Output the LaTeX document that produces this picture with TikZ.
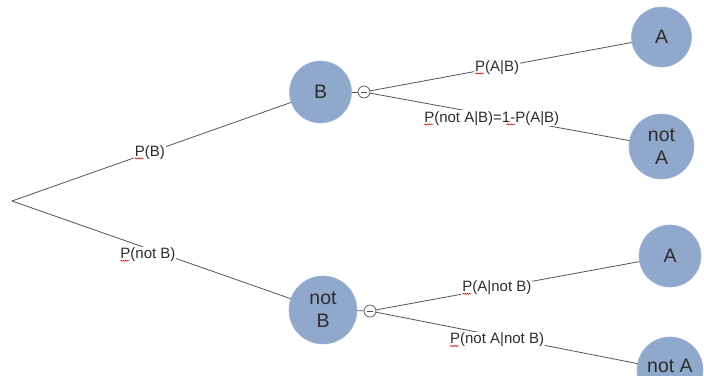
\documentclass[tikz,border=0pt]{standalone}
\usepackage{fontspec}
\setmainfont{Liberation Sans}
\usetikzlibrary{decorations.pathmorphing}
\definecolor{nodeblue}{RGB}{143,168,203}
\definecolor{txt}{RGB}{45,45,45}
\definecolor{ln}{RGB}{85,85,85}
\tikzset{
  leaf/.style={circle, fill=nodeblue, draw=nodeblue!85!white, line width=0.6pt, inner sep=0pt, align=center,
    text=txt, font=\fontsize{19.5}{23}\selectfont},
  minusc/.style={circle, draw=ln, fill=white, line width=0.7pt, minimum size=12pt, inner sep=0pt},
  edge/.style={draw=ln, line width=0.8pt},
  lbl/.style={fill=white, inner sep=1pt, text=txt, font=\fontsize{15}{17}\selectfont},
  squig/.style={draw=red!80!black, line width=0.5pt, decorate, decoration={snake, segment length=2.2pt, amplitude=0.6pt}}
}
\begin{document}
\begin{tikzpicture}[x=1pt,y=-1pt]
\useasboundingbox (0,0) rectangle (704,375);
\fill[white] (0,0) rectangle (704,375);
\clip (0,0) rectangle (704,375);
\coordinate (root) at (12,201);
\node[leaf, minimum size=62pt] (B) at (320.5,92) {B};
\node[leaf, minimum size=68pt] (nB) at (323,310) {not\\B};
\node[minusc] (m1) at (364,92) {};
\node[minusc] (m2) at (370,311) {};
\node[leaf, minimum size=60pt] (A1) at (661.5,37) {A};
\node[leaf, minimum size=65pt] (nA1) at (661.5,146.5) {not\\A};
\node[leaf, minimum size=62pt] (A2) at (670,256) {A};
\node[leaf, minimum size=66pt, text height=14pt, text depth=10pt] (nA2) at (670,370) {not A};

\draw[edge] ([xshift=-2.6pt]m1.center) -- ([xshift=2.6pt]m1.center);
\draw[edge] ([xshift=-2.6pt]m2.center) -- ([xshift=2.6pt]m2.center);

\draw[edge] (root) -- node[lbl, pos=0.494] (lB) {P(B)} (B);
\draw[edge] (root) -- node[lbl, pos=0.488, yshift=-6pt] (lnB) {P(not B)} (nB);
\draw[edge] (B) -- (m1);
\draw[edge] (nB) -- (m2);
\draw[edge] (m1) -- node[lbl, pos=0.485] (lAB) {P(A|B)} (A1);
\draw[edge] (m1) -- node[lbl, pos=0.469, yshift=-3pt] (lnAB) {P(not A|B)=1-P(A|B)} (nA1);
\draw[edge] (m2) -- node[lbl, pos=0.459] (lAnB) {P(A|not B)} (A2);
\draw[edge] (m2) -- node[lbl, pos=0.463, yshift=-4pt] (lnAnB) {P(not A|not B)} (nA2);

\foreach \n in {lB,lnB,lAB,lnAB,lAnB,lnAnB}{
  \draw[squig] ([xshift=1.3pt,yshift=-2.2pt]\n.base west) -- ++(9,0);
}
\draw[squig] ([xshift=83.5pt,yshift=-2.2pt]lnAB.base west) -- ++(9,0);
\end{tikzpicture}
\end{document}
